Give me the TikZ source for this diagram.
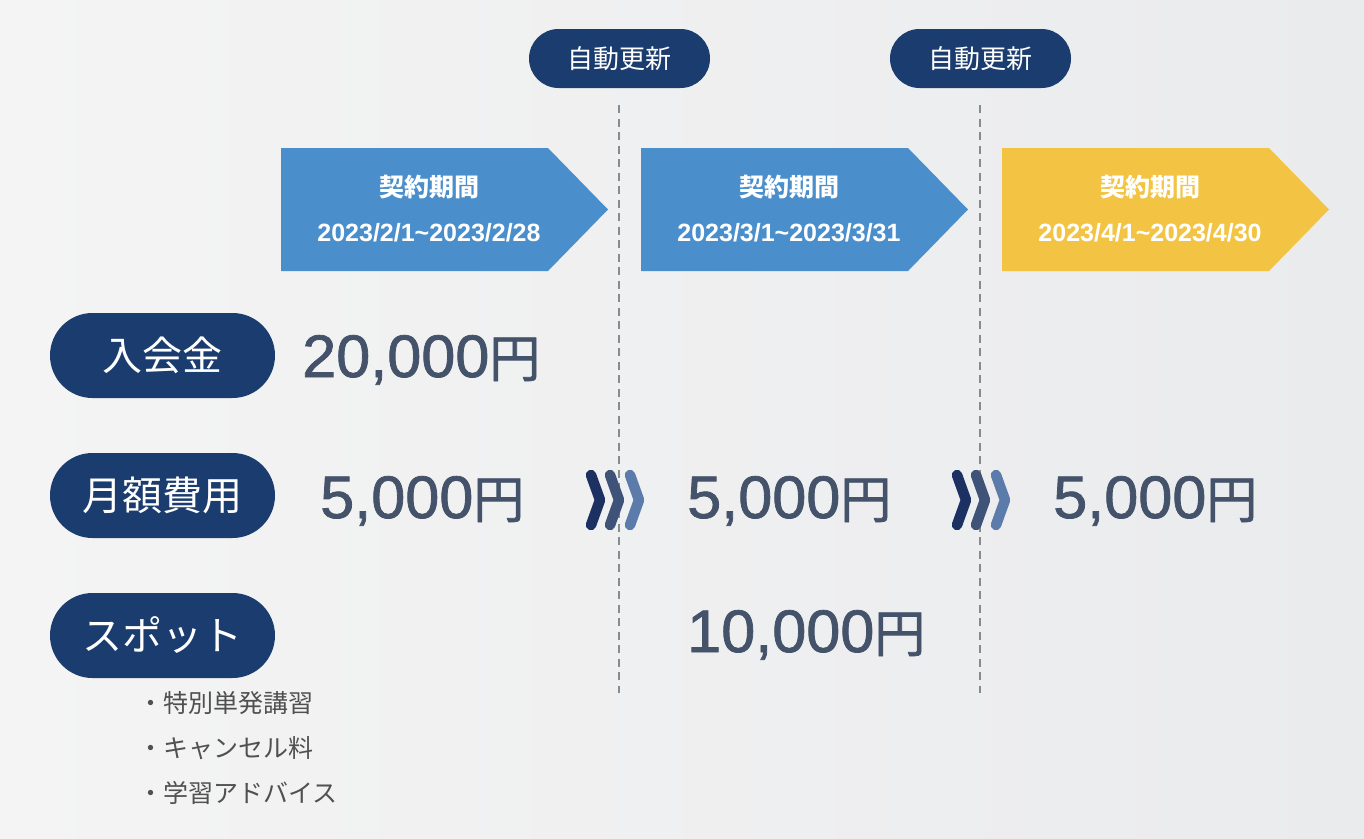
\documentclass[tikz,border=0pt]{standalone}
\usepackage{fontspec}
\setmainfont{Liberation Sans}
\newfontfamily\jp{Noto Sans CJK JP}
\newfontfamily\amtfont[FakeBold=1.3,FakeStretch=1.02]{Liberation Sans}
\newfontfamily\jpamt[FakeBold=1.3]{Noto Sans CJK JP}
\definecolor{bgL}{HTML}{F4F4F4}
\definecolor{bgR}{HTML}{EAEBED}
\definecolor{navy}{HTML}{1B3C6E}
\definecolor{boxblue}{HTML}{4A8FCB}
\definecolor{boxyellow}{HTML}{F3C443}
\definecolor{amount}{HTML}{44536A}
\definecolor{listgray}{HTML}{505050}
\definecolor{dashgray}{HTML}{8A8A8A}
\definecolor{chA}{HTML}{1C3062}
\definecolor{chB}{HTML}{3F5278}
\definecolor{chC}{HTML}{5B7CAB}
\tikzset{
  pill/.style={fill=navy, text=white, rounded corners=29.5pt, minimum width=181pt, minimum height=59pt, inner sep=0pt, font=\jp\fontsize{26}{30}\selectfont},
  catpill/.style={fill=navy, text=white, rounded corners=42.5pt, minimum width=225pt, minimum height=85pt, inner sep=0pt, font=\jp\fontsize{40}{46}\selectfont},
  amt/.style={text=amount, anchor=base west, inner sep=0pt, font=\amtfont\fontsize{60}{66}\selectfont},
  ptitle/.style={text=white, inner sep=0pt, font=\jp\bfseries\fontsize{25}{28}\selectfont},
  pdate/.style={text=white, inner sep=0pt, font=\bfseries\fontsize{25}{28}\selectfont},
  listitem/.style={text=listgray, anchor=west, inner sep=0pt, font=\jp\fontsize{25}{28}\selectfont},
  divider/.style={draw=dashgray, line width=1.8pt, dash pattern=on 8pt off 5.5pt},
  chev/.style={line width=10.5pt, line cap=round, line join=round}
}
\newcommand{\yen}{{\jpamt\fontsize{51}{60}\selectfont 円}}
\newcommand{\periodbox}[2]{%
  \fill[#2] (#1,148) -- ++(267,0) -- ++(60,61.5) -- ++(-60,61.5) -- ++(-267,0) -- cycle;}
\begin{document}
\begin{tikzpicture}[x=1pt,y=-1pt]
\shade[left color=bgL, right color=bgR] (0,0) rectangle (1364,838);
\useasboundingbox (0,0) rectangle (1364,838);

% dashed dividers
\coordinate (d1t) at (619,105); \coordinate (d1b) at (619,693);
\coordinate (d2t) at (980,105); \coordinate (d2b) at (980,693);
\draw[divider] (d1t) -- (d1b);
\draw[divider] (d2t) -- (d2b);

% auto renewal pills
\node[pill] (ar1) at (619.5,58.5) {自動更新};
\node[pill] (ar2) at (980.5,58.5) {自動更新};

% period boxes
\periodbox{281}{boxblue}
\node[ptitle] (p1t) at (429,187) {契約期間};
\node[pdate] (p1d) at (429,233) {2023/2/1\textasciitilde2023/2/28};
\periodbox{641}{boxblue}
\node[ptitle] (p2t) at (789,187) {契約期間};
\node[pdate] (p2d) at (789,233) {2023/3/1\textasciitilde2023/3/31};
\periodbox{1002}{boxyellow}
\node[ptitle] (p3t) at (1150,187) {契約期間};
\node[pdate] (p3d) at (1150,233) {2023/4/1\textasciitilde2023/4/30};

% category pills
\node[catpill] (c1) at (162.5,355.5) {入会金};
\node[catpill] (c2) at (162.5,495.5) {月額費用};
\node[catpill] (c3) at (162.5,635.5) {スポット};

% amounts
\node[amt] (a1) at (302,377) {20,000\yen};
\node[amt] (a2) at (320,518) {5,000\yen};
\node[amt] (a3) at (687,518) {5,000\yen};
\node[amt] (a4) at (1053,518) {5,000\yen};
\node[amt] (a5) at (687,652) {10,000\yen};

% chevrons
\foreach \ox in {0,366}{
  \draw[chev, chA] (591+\ox,475) -- (600+\ox,500) -- (591+\ox,525);
  \draw[chev, chB] (610+\ox,475) -- (619+\ox,500) -- (610+\ox,525);
  \draw[chev, chC] (630+\ox,475) -- (639+\ox,500) -- (630+\ox,525);
}

% spot list
\node[listitem] (l1) at (138,703) {・特別単発講習};
\node[listitem] (l2) at (138,748) {・キャンセル料};
\node[listitem] (l3) at (138,793) {・学習アドバイス};
\end{tikzpicture}
\end{document}
